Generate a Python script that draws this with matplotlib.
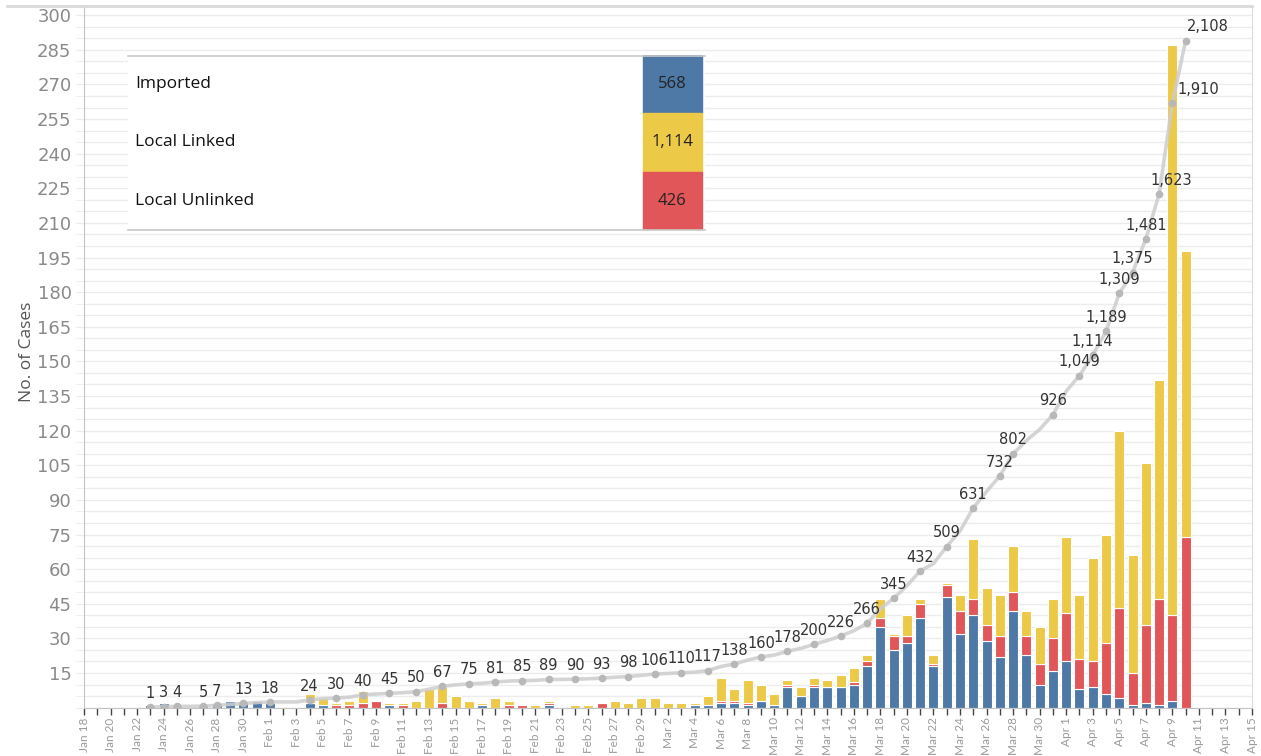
import numpy as np
import pandas as pd
import matplotlib
matplotlib.use('Agg')
import matplotlib.pyplot as plt
import matplotlib.dates as mdates
from matplotlib.patches import Rectangle
from matplotlib.lines import Line2D

# --- daily new cases by type (Jan 23 - Apr 10, 2020) ---
dates = pd.date_range('2020-01-23', '2020-04-10')

imported = ([1, 2, 1, 0, 1, 2, 3, 3, 3] +
            [2, 0, 0, 2, 1, 0, 0, 0, 0, 1, 0, 0, 0, 0, 0, 0, 1, 0, 0, 0,
             0, 1, 0, 0, 0, 0, 0, 0, 0] +
            [0, 0, 0, 1, 1, 2, 2, 1, 3, 1, 9, 5, 9, 9, 9, 10, 18, 35, 25, 28,
             39, 18, 48, 32, 40, 29, 22, 42, 23, 10, 16] +
            [20, 8, 9, 6, 4, 1, 2, 1, 3, 0])
local_unlinked = ([0] * 9 +
                  [0, 0, 0, 0, 0, 1, 1, 2, 3, 0, 1, 0, 0, 2, 0, 0, 0, 0, 1, 1,
                   0, 1, 0, 0, 0, 2, 0, 0, 0] +
                  [0, 0, 0, 0, 0, 1, 1, 1, 0, 0, 1, 0, 1, 0, 0, 1, 2, 4, 6, 3,
                   6, 1, 5, 10, 7, 7, 9, 8, 8, 9, 14] +
                  [21, 13, 11, 22, 39, 14, 34, 46, 37, 74])
local_linked = ([0] * 9 +
                [0, 0, 0, 4, 3, 1, 2, 5, 0, 1, 1, 3, 8, 7, 5, 3, 1, 4, 2, 0,
                 1, 1, 0, 1, 1, 0, 3, 2, 4] +
                [4, 2, 2, 1, 4, 10, 5, 10, 7, 5, 2, 4, 3, 3, 5, 6, 3, 8, 1, 9,
                 2, 4, 1, 7, 26, 16, 18, 20, 11, 16, 17] +
                [33, 28, 45, 47, 77, 51, 70, 95, 247, 124])

# dates whose cumulative total is labelled on the line
label_dates = ['2020-01-23', '2020-01-24', '2020-01-25', '2020-01-27', '2020-01-28',
               '2020-01-30', '2020-02-01', '2020-02-04', '2020-02-06', '2020-02-08',
               '2020-02-10', '2020-02-12', '2020-02-14', '2020-02-16', '2020-02-18',
               '2020-02-20', '2020-02-22', '2020-02-24', '2020-02-26', '2020-02-28',
               '2020-03-01', '2020-03-03', '2020-03-05', '2020-03-07', '2020-03-09',
               '2020-03-11', '2020-03-13', '2020-03-15', '2020-03-17', '2020-03-19',
               '2020-03-21', '2020-03-23', '2020-03-25', '2020-03-27', '2020-03-28',
               '2020-03-31', '2020-04-02', '2020-04-03', '2020-04-04', '2020-04-05',
               '2020-04-06', '2020-04-07', '2020-04-08', '2020-04-09', '2020-04-10']

legend_names = ['Imported', 'Local Linked', 'Local Unlinked']
legend_totals = ['568', '1,114', '426']

c_imp = '#4e79a7'
c_link = '#edc948'
c_unl = '#e15759'

imported = np.array(imported)
local_unlinked = np.array(local_unlinked)
local_linked = np.array(local_linked)
cumulative = np.cumsum(imported + local_unlinked + local_linked)

# --- figure ---
fig = plt.figure(figsize=(12.61, 7.56), dpi=100)
W, H = 1261, 756
x0, x1, y0, y1 = 84, 1252, 707.6, 6
ax = fig.add_axes([x0 / W, 1 - y0 / H, (x1 - x0) / W, (y0 - y1) / H])

xd = mdates.date2num(dates)
bw = 0.75
ax.bar(xd, imported, bw, color=c_imp, edgecolor='white', linewidth=0.8, zorder=2)
ax.bar(xd, local_unlinked, bw, bottom=imported, color=c_unl,
       edgecolor='white', linewidth=0.8, zorder=2)
ax.bar(xd, local_linked, bw, bottom=imported + local_unlinked, color=c_link,
       edgecolor='white', linewidth=0.8, zorder=2)

ax.set_ylim(0, 304)
ax.set_xlim(mdates.date2num(pd.Timestamp('2020-01-18')),
            mdates.date2num(pd.Timestamp('2020-04-15')))
ax.set_yticks(range(15, 301, 15))
ax.set_yticks(range(0, 305, 5), minor=True)
ax.grid(True, which='both', axis='y', color='#ececec', linewidth=1)
ax.set_axisbelow(True)
ax.tick_params(axis='y', which='both', length=6, color='#ececec',
               labelsize=13, labelcolor='#8a8a8a', pad=3)

tick_days = pd.date_range('2020-01-18', '2020-04-15', freq='2D')
ax.set_xticks(mdates.date2num(tick_days))
ax.set_xticklabels([f'{d:%b} {d.day}' for d in tick_days], rotation=90,
                   family='Lato')
ax.set_xticks(mdates.date2num(pd.date_range('2020-01-18', '2020-04-15')), minor=True)
ax.tick_params(axis='x', which='both', direction='out', length=5, width=1,
               color='#444444', labelsize=8.5, labelcolor='#9a9a9a', pad=2)

for s in ['left', 'bottom']:
    ax.spines[s].set_color('#c4c4c4')
for s in ['top', 'right']:
    ax.spines[s].set_color('#dadada')

# --- cumulative line on a hidden second axis ---
ax2 = ax.twinx()
ax2.set_ylim(0, 304 * 2108 / 289)
ax2.set_yticks([])
for s in ax2.spines.values():
    s.set_visible(False)
ax2.plot(xd, cumulative, color='#cdcdcd', linewidth=2.6, alpha=0.85,
         solid_capstyle='round', zorder=3)

nudges = {'2020-04-08': 9, '2020-04-09': 19, '2020-04-10': 16}
for d in label_dates:
    i = dates.get_loc(pd.Timestamp(d))
    ax2.plot(xd[i], cumulative[i], 'o', color='#b8b8b8', markersize=4.5, zorder=4)
    ax2.annotate(f'{cumulative[i]:,}', (xd[i], cumulative[i]),
                 xytext=(nudges.get(d, 0), 10), textcoords='offset points',
                 ha='center', va='center', fontsize=10.5, color='#333333',
                 zorder=5)

# top frame line reaching over the axis label area
fig.add_artist(Line2D([7 / W, x1 / W], [1 - y1 / H, 1 - y1 / H],
                      color='#dadada', linewidth=2))

fig.text(27 / W, 1 - 352 / H, 'No. of Cases', rotation=90, ha='center',
         va='center', fontsize=12.5, color='#555555', family='Open Sans')

# --- legend table ---
tab = fig.add_axes([128 / W, 1 - 230 / H, 577 / W, 175 / H])
tab.set_xlim(0, 577)
tab.set_ylim(175, 0)
tab.axis('off')
tab.add_patch(Rectangle((0, 0), 577, 175, color='white', zorder=0))
row_h = 175 / 3
for k, (name, tot, col) in enumerate(zip(legend_names, legend_totals,
                                         [c_imp, c_link, c_unl])):
    yc = row_h * (k + 0.5)
    tab.add_patch(Rectangle((515, row_h * k), 59, row_h, color=col, zorder=1))
    tab.text(7, yc, name, ha='left', va='center', fontsize=12.5,
             color='#111111', family='Open Sans')
    tab.text(544.5, yc, tot, ha='center', va='center', fontsize=12,
             color='#222222', family='Open Sans')
tab.plot([0, 577], [0.5, 0.5], color='#c8c8c8', linewidth=1.2, clip_on=False)
tab.plot([0, 577], [174.5, 174.5], color='#c8c8c8', linewidth=1.2, clip_on=False)

fig.savefig('out.png', dpi=100)
